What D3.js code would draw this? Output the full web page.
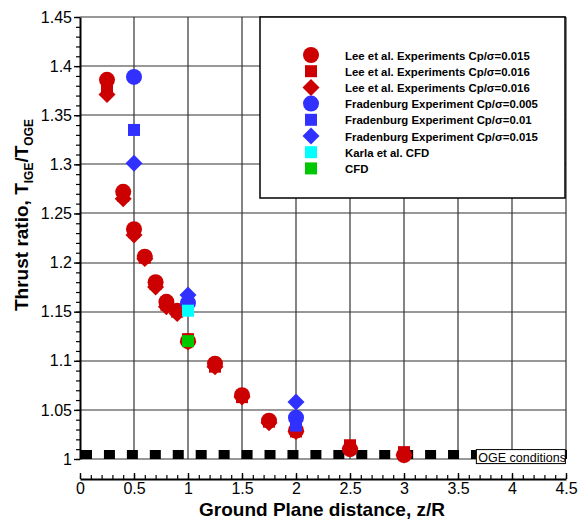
<!DOCTYPE html>
<html>
<head>
<meta charset="utf-8">
<script src="https://cdn.jsdelivr.net/npm/d3@7/dist/d3.min.js"></script>
<style>
  html, body { margin: 0; padding: 0; background: #fff; }
  svg { display: block; font-family: "Liberation Sans", Arial, Helvetica, sans-serif; }
</style>
</head>
<body>
<svg id="chart" width="584" height="522"></svg>
<script>
// Thrust ratio in ground effect vs. ground plane distance

const xTicks = [0, 0.5, 1, 1.5, 2, 2.5, 3, 3.5, 4, 4.5];
const xTickLabels = ["0", "0.5", "1", "1.5", "2", "2.5", "3", "3.5", "4", "4.5"];
const yTicks = [1, 1.05, 1.1, 1.15, 1.2, 1.25, 1.3, 1.35, 1.4, 1.45];
const yTickLabels = ["1", "1.05", "1.1", "1.15", "1.2", "1.25", "1.3", "1.35", "1.4", "1.45"];

// Lee et al. experiments, Cp/σ = 0.015 (circles)
const leeCircleZ = [0.25, 0.4, 0.5, 0.6, 0.7, 0.8, 0.9, 1.0, 1.25, 1.5, 1.75, 2.0, 2.5, 3.0];
const leeCircleT = [1.386, 1.272, 1.234, 1.206, 1.180, 1.160, 1.151, 1.120, 1.097, 1.065, 1.039, 1.029, 1.010, 1.004];
// Lee et al. experiments, Cp/σ = 0.016 (squares)
const leeSquareZ = [0.25, 0.4, 0.5, 0.6, 0.7, 0.8, 0.9, 1.0, 1.25, 1.5, 1.75, 2.0, 2.5, 3.0];
const leeSquareT = [1.379, 1.268, 1.231, 1.205, 1.178, 1.157, 1.150, 1.122, 1.094, 1.063, 1.038, 1.028, 1.014, 1.007];
// Lee et al. experiments, Cp/σ = 0.016 (diamonds)
const leeDiamondZ = [0.25, 0.4, 0.5, 0.6, 0.7, 0.8, 0.9, 1.0, 1.25, 1.5, 1.75, 2.0, 2.5, 3.0];
const leeDiamondT = [1.371, 1.265, 1.228, 1.204, 1.175, 1.155, 1.148, 1.119, 1.094, 1.063, 1.037, 1.028, 1.011, 1.004];
// Fradenburg experiment
const fradCircleZ = [0.5, 1.0, 2.0];
const fradCircleT = [1.389, 1.159, 1.042];
const fradSquareZ = [0.5, 1.0, 2.0];
const fradSquareT = [1.335, 1.152, 1.034];
const fradDiamondZ = [0.5, 1.0, 2.0];
const fradDiamondT = [1.301, 1.167, 1.058];
// CFD results
const karlaZ = [1.0];
const karlaT = [1.151];
const cfdZ = [1.0];
const cfdT = [1.120];

// Out-of-ground-effect reference level
const ogeZ = [0, 4.5];
const ogeT = [1.0045, 1.0045];

const legendLabels = [
  "Lee et al. Experiments Cp/σ=0.015",
  "Lee et al. Experiments Cp/σ=0.016",
  "Lee et al. Experiments Cp/σ=0.016",
  "Fradenburg Experiment Cp/σ=0.005",
  "Fradenburg Experiment Cp/σ=0.01",
  "Fradenburg Experiment Cp/σ=0.015",
  "Karla et al. CFD",
  "CFD"
];

const RED = "#cc0000", BLUE = "#3030ff", CYAN = "#00ffff", GREEN = "#00c800";

const series = [
  { z: leeCircleZ, t: leeCircleT, shape: "circle", color: RED },
  { z: leeSquareZ, t: leeSquareT, shape: "square", color: RED },
  { z: leeDiamondZ, t: leeDiamondT, shape: "diamond", color: RED },
  { z: fradCircleZ, t: fradCircleT, shape: "circle", color: BLUE },
  { z: fradSquareZ, t: fradSquareT, shape: "square", color: BLUE },
  { z: fradDiamondZ, t: fradDiamondT, shape: "diamond", color: BLUE },
  { z: karlaZ, t: karlaT, shape: "square", color: CYAN },
  { z: cfdZ, t: cfdT, shape: "square", color: GREEN }
];

const svg = d3.select("#chart");
const plotLeft = 80, plotRight = 566, plotTop = 17, plotBottom = 459, xAxisY = 479;

const x = d3.scaleLinear().domain([0, 4.5]).range([plotLeft, plotRight]);
const y = d3.scaleLinear().domain([1, 1.45]).range([plotBottom, plotTop]);

// symbol generators
const symCircle = d3.symbol().type(d3.symbolCircle).size(Math.PI * 8 * 8);
const symSquare = d3.symbol().type(d3.symbolSquare).size(12 * 12);
function markPath(shape) {
  return shape === "circle" ? symCircle() : symSquare();
}
function markTransform(shape, cx, cy) {
  return `translate(${cx},${cy})` + (shape === "diamond" ? " rotate(45)" : "");
}

// grid
const grid = svg.append("g").attr("stroke", "#333").attr("stroke-width", 1.2);
grid.selectAll("line.v").data(xTicks.filter(d => d > 0)).join("line")
  .attr("class", "v")
  .attr("x1", d => Math.round(x(d))).attr("x2", d => Math.round(x(d)))
  .attr("y1", plotTop).attr("y2", plotBottom);
grid.selectAll("line.h").data(yTicks).join("line")
  .attr("class", "h")
  .attr("x1", plotLeft).attr("x2", plotRight)
  .attr("y1", d => Math.round(y(d))).attr("y2", d => Math.round(y(d)));

// OGE reference level: thick dashed line
svg.append("path")
  .datum(ogeZ.map((z, i) => [z, ogeT[i]]))
  .attr("d", d3.line().x(d => x(d[0]) + 1).y(d => y(d[1])))
  .attr("fill", "none")
  .attr("stroke", "#000")
  .attr("stroke-width", 9)
  .attr("stroke-dasharray", "11 11.94");

// y axis with major and minor ticks
const yMinor = d3.range(100, 146).map(v => v / 100);
svg.append("g")
  .attr("transform", `translate(${plotLeft},0)`)
  .call(d3.axisLeft(y).tickValues(yMinor).tickSize(4).tickFormat(""))
  .call(g => g.select(".domain").remove())
  .call(g => g.selectAll("line").attr("stroke-width", 1.2));
const yAxis = svg.append("g")
  .attr("transform", `translate(${plotLeft},0)`)
  .call(d3.axisLeft(y).tickValues(yTicks).tickSize(6).tickSizeOuter(0).tickPadding(2)
    .tickFormat((d, i) => yTickLabels[i]));
yAxis.select(".domain").attr("stroke-width", 2);
yAxis.selectAll("line").attr("stroke-width", 1.4);
yAxis.selectAll("text").attr("font-size", 16).attr("font-family", "Liberation Sans, Arial, sans-serif").attr("fill", "#000");

// x axis, drawn below the plot, ticks pointing up
const xMinor = d3.range(0, 46).map(v => v / 10);
svg.append("g")
  .attr("transform", `translate(0,${xAxisY})`)
  .call(d3.axisBottom(x).tickValues(xMinor).tickSizeInner(-4).tickSizeOuter(0).tickFormat(""))
  .call(g => g.select(".domain").remove())
  .call(g => g.selectAll("line").attr("stroke-width", 1.2));
const xAxis = svg.append("g")
  .attr("transform", `translate(0,${xAxisY})`)
  .call(d3.axisBottom(x).tickValues(xTicks).tickSizeInner(-6).tickSizeOuter(0).tickPadding(4)
    .tickFormat((d, i) => xTickLabels[i]));
xAxis.select(".domain").attr("stroke-width", 2);
xAxis.selectAll("line").attr("stroke-width", 1.4);
xAxis.selectAll("text").attr("font-size", 16).attr("font-family", "Liberation Sans, Arial, sans-serif").attr("fill", "#000");

// data marks
const marks = svg.append("g");
series.forEach(s => {
  marks.append("g").selectAll("path")
    .data(s.z.map((z, i) => [z, s.t[i]]))
    .join("path")
    .attr("d", markPath(s.shape))
    .attr("transform", d => markTransform(s.shape, x(d[0]), y(d[1])))
    .attr("fill", s.color);
});

// OGE label
const oge = svg.append("g").attr("transform", `translate(${x(3.67)},${y(1.0045)})`);
oge.append("rect").attr("x", 0).attr("y", -5).attr("width", 89).attr("height", 14)
  .attr("fill", "#fff").attr("stroke", "#000").attr("stroke-width", 1);
oge.append("text").attr("x", 2).attr("y", 7).attr("font-size", 12.5).attr("fill", "#000")
  .text("OGE conditions");

// legend; font size chosen so the first entry spans about 185px
const lg = svg.append("g");
lg.append("rect").attr("x", 260).attr("y", plotTop).attr("width", 305).attr("height", 181)
  .attr("fill", "#fff").attr("stroke", "#000").attr("stroke-width", 1.5);
const probe = lg.append("text").attr("font-size", 12).attr("font-weight", "bold").text(legendLabels[0]);
const legendFont = Math.min(13, Math.max(10.5, 12 * 185 / probe.node().getComputedTextLength()));
probe.remove();
series.forEach((s, i) => {
  const cy = 55 + i * 16.2;
  lg.append("path")
    .attr("d", markPath(s.shape))
    .attr("transform", markTransform(s.shape, 311, cy))
    .attr("fill", s.color);
  lg.append("text")
    .attr("x", 345).attr("y", cy + 4.5)
    .attr("font-size", legendFont).attr("font-weight", "bold").attr("fill", "#000")
    .text(legendLabels[i]);
});

// axis titles
svg.append("text")
  .attr("x", 322).attr("y", 516)
  .attr("text-anchor", "middle")
  .attr("font-size", 19).attr("font-weight", "bold")
  .text("Ground Plane distance, z/R");

const yt = svg.append("text")
  .attr("transform", "translate(28,215) rotate(-90)")
  .attr("text-anchor", "middle")
  .attr("font-size", 19).attr("font-weight", "bold");
yt.append("tspan").text("Thrust ratio, T");
yt.append("tspan").attr("font-size", 12).attr("dy", 5).text("IGE");
yt.append("tspan").attr("dy", -5).text("/T");
yt.append("tspan").attr("font-size", 12).attr("dy", 5).text("OGE");
</script>
</body>
</html>
